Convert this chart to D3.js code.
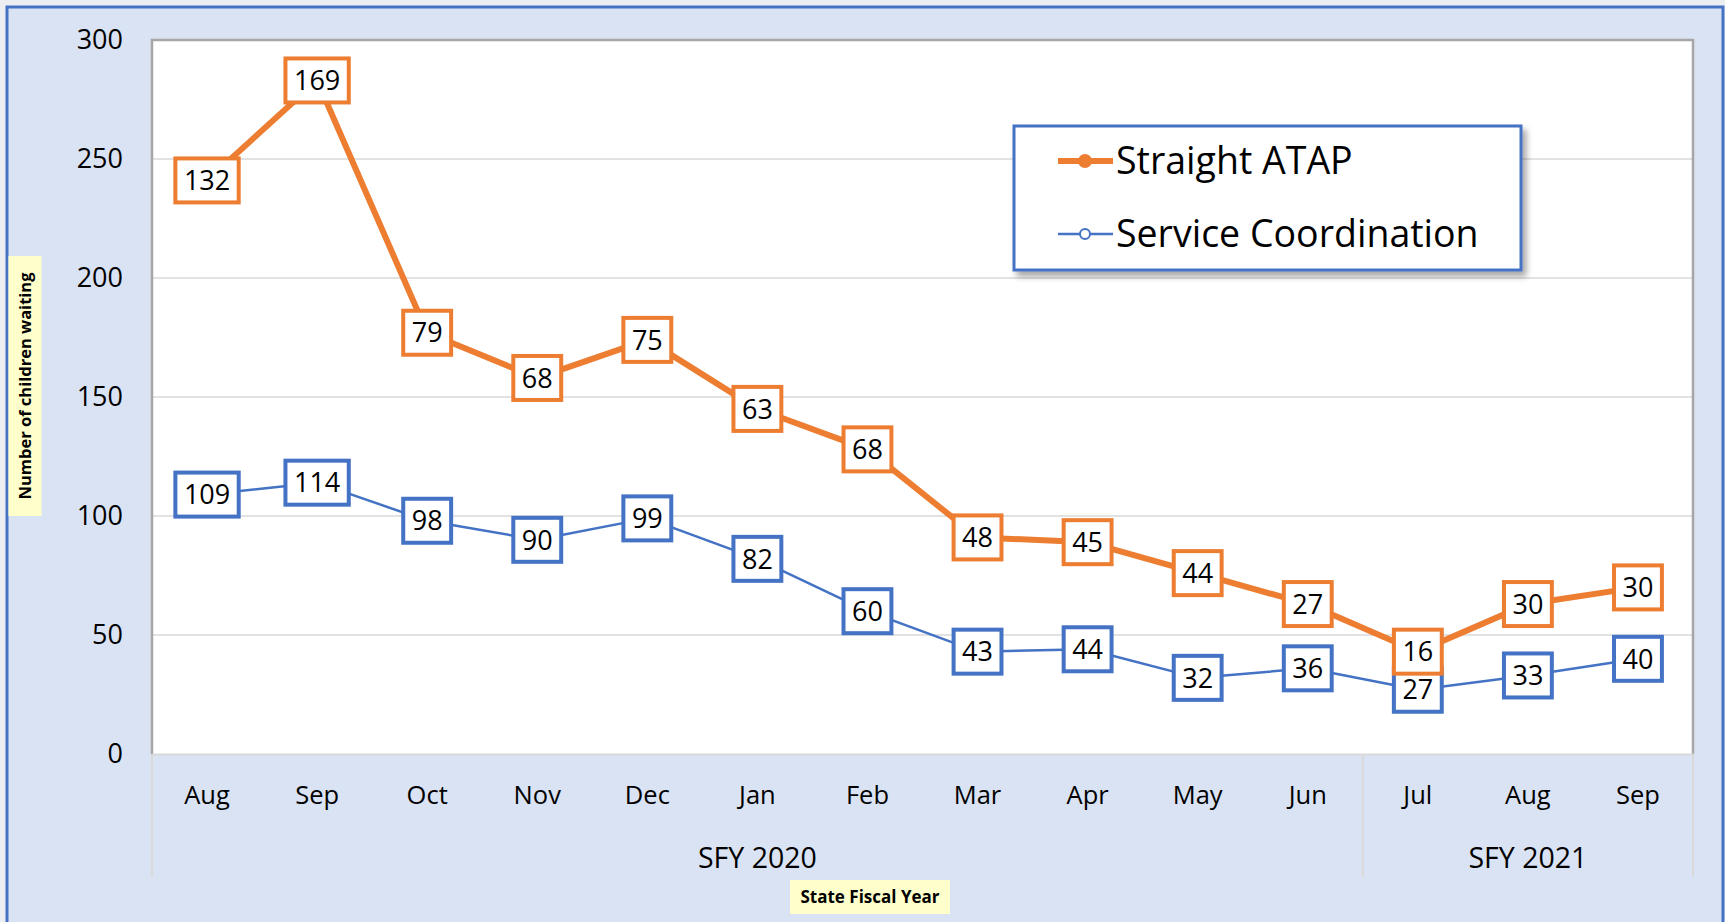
<!DOCTYPE html>
<html>
<head>
<meta charset="utf-8">
<script src="https://cdn.jsdelivr.net/npm/d3@7"></script>
<style>
  body { margin: 0; background: #eceef1; }
  svg { display: block; font-family: "Open Sans", sans-serif; }
</style>
</head>
<body>
<svg id="chart" width="1725" height="922"></svg>
<script>
// chart data
const months = ['Aug', 'Sep', 'Oct', 'Nov', 'Dec', 'Jan', 'Feb', 'Mar', 'Apr', 'May', 'Jun', 'Jul', 'Aug', 'Sep'];
const fiscalYears = ['SFY 2020', 'SFY 2021'];
const monthsPerYear = [11, 3];
const serviceCoordination = [109, 114, 98, 90, 99, 82, 60, 43, 44, 32, 36, 27, 33, 40];
const straightAtap = [132, 169, 79, 68, 75, 63, 68, 48, 45, 44, 27, 16, 30, 30];
const yTicks = [0, 50, 100, 150, 200, 250, 300];

const blue = '#4472C4', orange = '#ED7D31';

const svg = d3.select('#chart');
const plot = {left: 152, right: 1693, top: 40, bottom: 754};

// table for the stack (values are stacked, labels show the own value)
const table = months.map((m, i) => ({i: i, sc: serviceCoordination[i], atap: straightAtap[i]}));
const stacked = d3.stack().keys(['sc', 'atap'])(table);

const x = d3.scaleBand().domain(d3.range(months.length)).range([plot.left, plot.right]).padding(0);
const cx = i => x(i) + x.bandwidth() / 2;
const y = d3.scaleLinear().domain([0, 300]).range([plot.bottom, plot.top]);

// drop shadow for legend
const defs = svg.append('defs');
defs.append('filter').attr('id', 'shadow').attr('x', -0.1).attr('y', -0.2).attr('width', 1.3).attr('height', 1.5)
  .append('feDropShadow').attr('dx', 4).attr('dy', 5).attr('stdDeviation', 3)
  .attr('flood-color', '#000').attr('flood-opacity', 0.35);

// outer frame
svg.append('rect')
  .attr('x', 7).attr('y', 7).attr('width', 1716).attr('height', 960)
  .attr('fill', '#DAE3F3').attr('stroke', blue).attr('stroke-width', 3);

// plot area
svg.append('rect')
  .attr('x', plot.left).attr('y', plot.top)
  .attr('width', plot.right - plot.left).attr('height', plot.bottom - plot.top)
  .attr('fill', '#fff');

// gridlines
svg.append('g').selectAll('line')
  .data(yTicks.filter(d => d > 0 && d < 300))
  .join('line')
    .attr('x1', plot.left).attr('x2', plot.right)
    .attr('y1', d => y(d)).attr('y2', d => y(d))
    .attr('stroke', '#D9D9D9').attr('stroke-width', 1.5);

svg.append('path')
  .attr('d', `M${plot.left},${plot.bottom}V${plot.top}H${plot.right}V${plot.bottom}`)
  .attr('fill', 'none').attr('stroke', '#A6A6A6').attr('stroke-width', 2.5);

// y axis
const yAxis = svg.append('g')
  .attr('transform', `translate(${plot.left},0)`)
  .call(d3.axisLeft(y).tickValues(yTicks).tickSize(0).tickPadding(29));
yAxis.select('.domain').remove();
yAxis.selectAll('text').attr('font-size', 27).attr('fill', '#000').attr('font-family', '"Open Sans", sans-serif');

// x axis (months)
const xAxis = svg.append('g')
  .attr('transform', `translate(0,${plot.bottom})`)
  .call(d3.axisBottom(x).tickFormat(i => months[i]).tickSize(0).tickPadding(32));
xAxis.select('.domain').attr('stroke', '#D9D9D9').attr('stroke-width', 2);
xAxis.selectAll('text').attr('font-size', 25.5).attr('fill', '#000').attr('font-family', '"Open Sans", sans-serif');

// fiscal year groups
let start = 0;
const groups = fiscalYears.map((fy, k) => {
  const g = {name: fy, from: start, to: start + monthsPerYear[k]};
  start += monthsPerYear[k];
  return g;
});
const edgeX = i => i >= months.length ? x.range()[1] : x(i);
const dividers = [0].concat(groups.map(g => g.to));
svg.append('g').selectAll('line')
  .data(dividers)
  .join('line')
    .attr('x1', d => edgeX(d)).attr('x2', d => edgeX(d))
    .attr('y1', plot.bottom).attr('y2', 877)
    .attr('stroke', '#D9D9D9').attr('stroke-width', 2);
svg.append('g').selectAll('text')
  .data(groups)
  .join('text')
    .attr('x', g => (edgeX(g.from) + edgeX(g.to)) / 2)
    .attr('y', 868)
    .attr('text-anchor', 'middle')
    .attr('font-size', 28.5)
    .text(g => g.name);

// axis titles
const yTitle = svg.append('g').attr('transform', 'translate(25,386) rotate(-90)');
yTitle.append('rect').attr('x', -130).attr('y', -16.5).attr('width', 260).attr('height', 33).attr('fill', '#FFFFCC');
yTitle.append('text').attr('text-anchor', 'middle').attr('dy', '0.35em')
  .attr('font-size', 16.5).attr('font-weight', 'bold').text('Number of children waiting');

const xTitle = svg.append('g').attr('transform', 'translate(870,897)');
xTitle.append('rect').attr('x', -80).attr('y', -17).attr('width', 160).attr('height', 34).attr('fill', '#FFFFCC');
xTitle.append('text').attr('text-anchor', 'middle').attr('dy', '0.35em')
  .attr('font-size', 17).attr('font-weight', 'bold').text('State Fiscal Year');

// lines
const line = d3.line().x(d => cx(d.data.i)).y(d => y(d[1]));
const series = [
  {key: 'sc', color: blue, width: 2.5, values: serviceCoordination},
  {key: 'atap', color: orange, width: 6, values: straightAtap}
];
series.forEach((s, k) => {
  svg.append('path')
    .datum(stacked[k])
    .attr('d', line)
    .attr('fill', 'none')
    .attr('stroke', s.color)
    .attr('stroke-width', s.width)
    .attr('stroke-linejoin', 'round');
});

// data labels (blue first, orange on top)
series.forEach((s, k) => {
  const lab = svg.append('g').selectAll('g')
    .data(stacked[k])
    .join('g')
      .attr('transform', d => `translate(${cx(d.data.i)},${y(d[1])})`);
  const rects = lab.append('rect');
  const texts = lab.append('text')
    .attr('text-anchor', 'middle')
    .attr('dy', '0.36em')
    .attr('font-size', 27)
    .text((d, i) => s.values[i]);
  texts.each(function(d, i) {
    const w = this.getComputedTextLength() + 17;
    d3.select(rects.nodes()[i])
      .attr('x', -w / 2).attr('y', -22).attr('width', w).attr('height', 44)
      .attr('fill', '#fff').attr('stroke', s.color).attr('stroke-width', 4);
  });
});

// legend
const legend = svg.append('g');
legend.append('rect')
  .attr('x', 1014).attr('y', 126).attr('width', 507).attr('height', 144)
  .attr('fill', '#fff').attr('stroke', blue).attr('stroke-width', 3)
  .attr('filter', 'url(#shadow)');
const legendItems = [
  {name: 'Straight ATAP', color: orange, width: 6, r: 6, fill: orange, y: 161},
  {name: 'Service Coordination', color: blue, width: 2.5, r: 5, fill: '#fff', y: 234}
];
const li = legend.selectAll('.item').data(legendItems).join('g')
  .attr('transform', d => `translate(0,${d.y})`);
li.append('line').attr('x1', 1058).attr('x2', 1113)
  .attr('stroke', d => d.color).attr('stroke-width', d => d.width);
li.append('circle').attr('cx', 1085).attr('r', d => d.r)
  .attr('fill', d => d.fill).attr('stroke', d => d.color).attr('stroke-width', 2);
li.append('text').attr('x', 1116).attr('dy', '0.35em').attr('font-size', 37.5).text(d => d.name);
</script>
</body>
</html>
